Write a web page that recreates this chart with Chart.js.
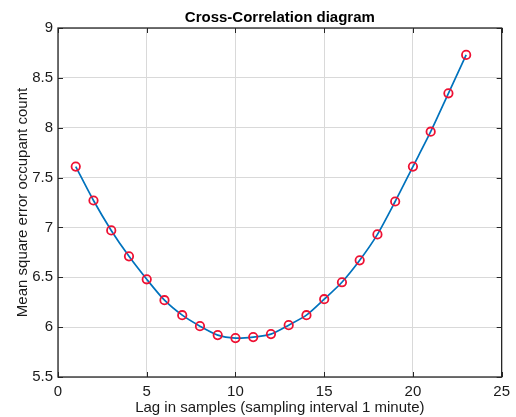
<!DOCTYPE html>
<html>
<head>
<meta charset="utf-8">
<script src="https://cdn.jsdelivr.net/npm/chart.js@4.4.1/dist/chart.umd.min.js"></script>
<style>
  html, body { margin: 0; padding: 0; background: #fff; }
  #wrap { width: 516px; height: 417px; }
</style>
</head>
<body>
<div id="wrap"><canvas id="ccChart" width="516" height="417"></canvas></div>
<script>
// lag (samples) and mean square error
const lags = [1, 2, 3, 4, 5, 6, 7, 8, 9, 10, 11, 12, 13, 14, 15, 16, 17, 18, 19, 20, 21, 22, 23];
const mse = [7.61, 7.27, 6.97, 6.71, 6.48, 6.27, 6.12, 6.01, 5.92, 5.89, 5.90, 5.93, 6.02,
             6.12, 6.28, 6.45, 6.67, 6.93, 7.26, 7.61, 7.96, 8.345, 8.73];
const xTicks = [0, 5, 10, 15, 20, 25];
const yTicks = [5.5, 6, 6.5, 7, 7.5, 8, 8.5, 9];

const FONT = "'Liberation Sans', Arial, Helvetica, sans-serif";

// box round the axes with inward ticks, matlab style
const boxTicks = {
    id: 'boxTicks',
    afterDatasetsDraw(chart) {
        const { ctx, chartArea: a, scales } = chart;
        const len = 5;
        ctx.save();
        ctx.strokeStyle = '#262626';
        ctx.lineWidth = 1;
        ctx.beginPath();
        xTicks.forEach(v => {
            const px = Math.round(scales.x.getPixelForValue(v)) + 0.5;
            ctx.moveTo(px, a.bottom); ctx.lineTo(px, a.bottom - len);
            ctx.moveTo(px, a.top); ctx.lineTo(px, a.top + len);
        });
        yTicks.forEach(v => {
            const py = Math.round(scales.y.getPixelForValue(v)) + 0.5;
            ctx.moveTo(a.left, py); ctx.lineTo(a.left + len, py);
            ctx.moveTo(a.right, py); ctx.lineTo(a.right - len, py);
        });
        ctx.stroke();
        ctx.lineWidth = 1.3;
        ctx.strokeRect(a.left, a.top, a.right - a.left, a.bottom - a.top);
        ctx.restore();
    }
};

const ctx = document.getElementById('ccChart').getContext('2d');
new Chart(ctx, {
    type: 'line',
    data: {
        datasets: [{
            data: lags.map((l, i) => ({ x: l, y: mse[i] })),
            borderColor: '#0072BD',
            borderWidth: 1.7,
            pointRadius: 4.2,
            pointBorderWidth: 1.8,
            pointBorderColor: '#ee1133',
            pointBackgroundColor: 'rgba(0,0,0,0)',
            tension: 0.25,
            fill: false
        }]
    },
    options: {
        responsive: false,
        animation: false,
        layout: { padding: { left: 0, right: 14, top: 0, bottom: 0 } },
        plugins: {
            legend: { display: false },
            tooltip: { enabled: false },
            title: {
                display: true,
                fullSize: false,
                text: 'Cross-Correlation diagram',
                color: '#000',
                font: { family: FONT, size: 15, weight: 'bold' },
                padding: { top: 9, bottom: 1 }
            }
        },
        scales: {
            x: {
                type: 'linear',
                min: 0,
                max: 25,
                afterBuildTicks: s => { s.ticks = xTicks.map(v => ({ value: v })); },
                afterFit: s => { s.height = 40; },
                grid: { color: '#d9d9d9', lineWidth: 1, drawTicks: false },
                border: { display: false },
                ticks: { color: '#1a1a1a', font: { family: FONT, size: 15 }, padding: 6, maxRotation: 0,
                         callback: v => String(v) },
                title: {
                    display: true,
                    text: 'Lag in samples (sampling interval 1 minute)',
                    color: '#1a1a1a',
                    font: { family: FONT, size: 15 },
                    padding: { top: 0, bottom: 0 }
                }
            },
            y: {
                min: 5.5,
                max: 9,
                afterBuildTicks: s => { s.ticks = yTicks.map(v => ({ value: v })); },
                afterFit: s => { s.width = 58; },
                grid: { color: '#d9d9d9', lineWidth: 1, drawTicks: false },
                border: { display: false },
                ticks: { color: '#1a1a1a', font: { family: FONT, size: 15 }, padding: 5,
                         callback: v => String(v) },
                title: {
                    display: true,
                    text: 'Mean square error occupant count',
                    color: '#1a1a1a',
                    font: { family: FONT, size: 15 },
                    padding: { top: 14, bottom: 0 }
                }
            }
        }
    },
    plugins: [boxTicks]
});
</script>
</body>
</html>
